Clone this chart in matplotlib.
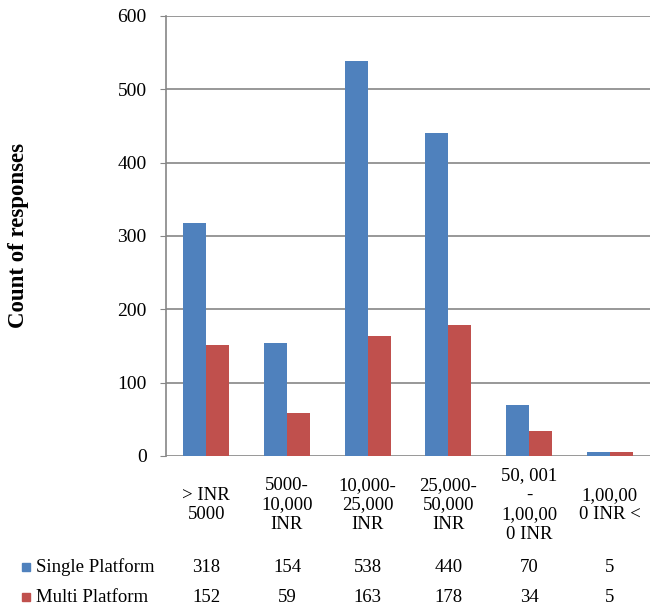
import matplotlib.pyplot as plt
import numpy as np
from matplotlib.patches import Rectangle
from matplotlib.transforms import blended_transform_factory

categories = ["> INR\n5000", "5000-\n10,000\nINR", "10,000-\n25,000\nINR",
              "25,000-\n50,000\nINR", "50, 001\n-\n1,00,00\n0 INR", "1,00,00\n0 INR <"]
single = [318, 154, 538, 440, 70, 5]
multi = [152, 59, 163, 178, 34, 5]
series = ["Single Platform", "Multi Platform"]
colors = ["#4F81BD", "#C0504D"]

plt.rcParams['font.family'] = ['Liberation Serif', 'DejaVu Serif']

fig = plt.figure(figsize=(6.5, 6.1), dpi=100)
ax = fig.add_axes([166 / 650, 154 / 610, 1 - 166 / 650, 440 / 610])

x = np.arange(len(categories))
w = 0.285
ax.bar(x - w / 2, single, w, color=colors[0], zorder=3)
ax.bar(x + w / 2, multi, w, color=colors[1], zorder=3)

ax.set_xlim(-0.5, len(categories) - 0.5)
ax.set_ylim(0, 600)
ax.set_yticks(range(0, 601, 100))
ax.yaxis.grid(True, color='#868686', linewidth=1.2, zorder=0)
ax.set_xticks([])
for s in ['top', 'right', 'bottom']:
    ax.spines[s].set_visible(False)
ax.spines['left'].set_color('#868686')
ax.spines['left'].set_linewidth(1.2)
ax.tick_params(axis='y', length=4, color='#868686', labelsize=14, pad=10)
fig.text(19 / 650, ax.get_position().y0 + ax.get_position().height / 2,
         "Count of responses", rotation=90, fontsize=16.5, fontweight='bold',
         ha='center', va='center')

# data table below the plot
fs = 13.5
tr = blended_transform_factory(ax.transData, fig.transFigure)
for i, c in enumerate(categories):
    ax.text(i, 1 - 505 / 610, c, transform=tr, ha='center', va='center',
            fontsize=fs, linespacing=1.2)
rows_y = [1 - 567 / 610, 1 - 597 / 610]
for vals, name, col, y in zip([single, multi], series, colors, rows_y):
    fig.patches.append(Rectangle((22 / 650, y - 4 / 610), 8 / 650, 8 / 610,
                                 transform=fig.transFigure, color=col))
    fig.text(36 / 650, y, name, fontsize=fs, va='center', ha='left')
    for i, v in enumerate(vals):
        ax.text(i, y, str(v), transform=tr, ha='center', va='center', fontsize=fs)

fig.savefig("out.png", dpi=100)
